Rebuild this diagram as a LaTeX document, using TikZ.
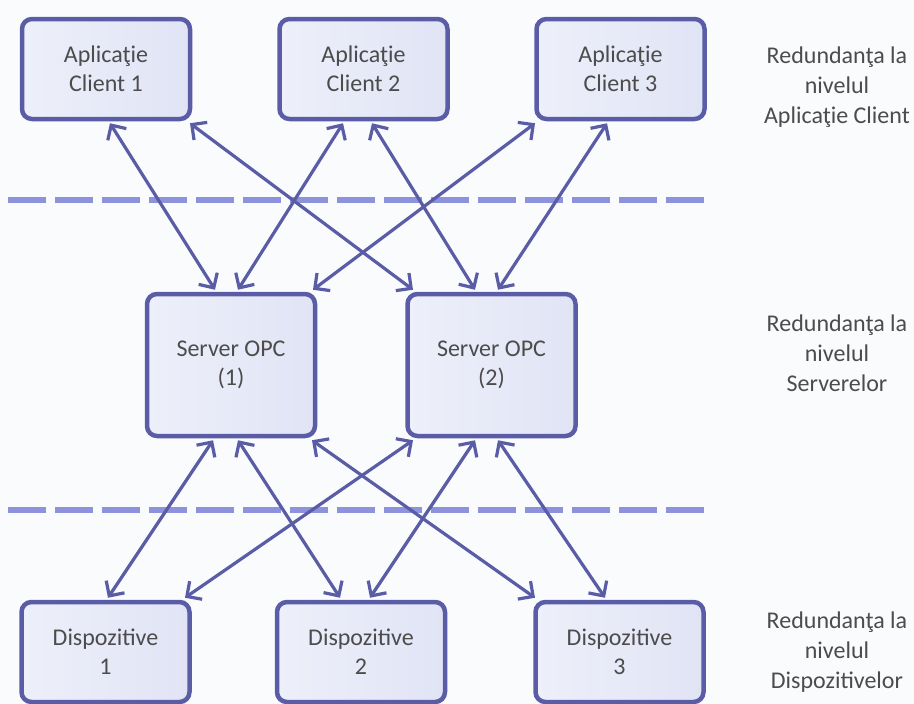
\documentclass[tikz,border=0pt]{standalone}
\usepackage{fontspec}
\setmainfont{Carlito}
\usetikzlibrary{arrows.meta,calc}
\definecolor{edge}{HTML}{5A5DA6}
\definecolor{boxfillA}{HTML}{EDEFFA}
\definecolor{boxfillB}{HTML}{E1E4F5}
\definecolor{sep}{HTML}{8C92DC}
\definecolor{txt}{HTML}{4C4C4C}
\definecolor{paper}{HTML}{FAFBFD}
\tikzset{
  unitbox/.style={draw=edge, line width=4.5pt, rounded corners=10pt,
    left color=boxfillA, right color=boxfillB, text=txt, align=center,
    font=\fontsize{24}{29}\selectfont, inner sep=0pt},
  wide/.style={unitbox, minimum width=168pt, minimum height=100pt},
  tall/.style={unitbox, minimum width=168pt, minimum height=142pt},
  link/.style={draw=edge, line width=3.2pt,
    {Straight Barb[length=11pt,width=22pt]}-{Straight Barb[length=11pt,width=22pt]}},
  separator/.style={draw=sep, line width=6pt, dash pattern=on 38pt off 9pt},
  levelnote/.style={text=txt, align=center, font=\fontsize{24}{30}\selectfont}
}
\begin{document}
\begin{tikzpicture}[x=1pt,y=-1pt]
  % page
  \fill[paper] (0,0) rectangle (914,704);
  \useasboundingbox (0,0) rectangle (914,704);

  % level separators
  \draw[separator] (8,200) -- (704,200);
  \draw[separator] (8,510) -- (704,510);

  % client applications
  \node[wide] (c1) at (106,69)   {Aplicaţie\\Client 1};
  \node[wide] (c2) at (363.5,69) {Aplicaţie\\Client 2};
  \node[wide] (c3) at (620.5,69) {Aplicaţie\\Client 3};

  % OPC servers
  \node[tall] (s1) at (231,365)   {Server OPC\\(1)};
  \node[tall] (s2) at (491.5,365) {Server OPC\\(2)};

  % devices
  \node[wide] (d1) at (105.5,652) {Dispozitive\\1};
  \node[wide] (d2) at (361,652)   {Dispozitive\\2};
  \node[wide] (d3) at (619.5,652) {Dispozitive\\3};

  % clients <-> servers
  \draw[link] ($(c1.south)+(4,2)$)     -- ($(s1.north)+(-16,-2)$);
  \draw[link] ($(c1.south)+(84,2)$)    -- ($(s2.north)+(-78.5,-2)$);
  \draw[link] ($(c2.south)+(-20.5,2)$) -- ($(s1.north)+(7,-2)$);
  \draw[link] ($(c2.south)+(8.5,2)$)   -- ($(s2.north)+(-16.5,-2)$);
  \draw[link] ($(c3.south)+(-85.5,2)$) -- ($(s1.north)+(82,-2)$);
  \draw[link] ($(c3.south)+(-13.5,2)$) -- ($(s2.north)+(6.5,-2)$);

  % servers <-> devices
  \draw[link] ($(s1.south)+(-18,2)$)   -- ($(d1.north)+(2.5,-2)$);
  \draw[link] ($(s1.south)+(7,2)$)     -- ($(d2.north)+(-21,-2)$);
  \draw[link] ($(s1.south)+(81,2)$)    -- ($(d3.north)+(-84.5,-2)$);
  \draw[link] ($(s2.south)+(-78.5,2)$) -- ($(d1.north)+(79.5,-2)$);
  \draw[link] ($(s2.south)+(-16.5,2)$) -- ($(d2.north)+(9,-2)$);
  \draw[link] ($(s2.south)+(6.5,2)$)   -- ($(d3.north)+(-14.5,-2)$);

  % level notes
  \node[levelnote] (n1) at (837,87)  {Redundanţa la\\nivelul\\Aplicaţie Client};
  \node[levelnote] (n2) at (837,353) {Redundanţa la\\nivelul\\Serverelor};
  \node[levelnote] (n3) at (837,652) {Redundanţa la\\nivelul\\Dispozitivelor};
\end{tikzpicture}
\end{document}
